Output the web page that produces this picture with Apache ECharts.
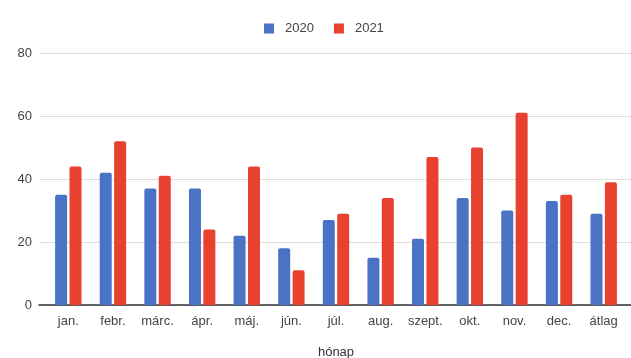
<!DOCTYPE html>
<html>
<head>
<meta charset="utf-8">
<script src="https://cdn.jsdelivr.net/npm/echarts@6/dist/echarts.min.js"></script>
<style>
  html, body { margin: 0; padding: 0; background: #ffffff; }
  #chart { width: 631px; height: 358px; }
</style>
</head>
<body>
<div id="chart"></div>
<script>
// Monthly figures per year, plus the yearly average
const categories = ['jan.', 'febr.', 'márc.', 'ápr.', 'máj.', 'jún.', 'júl.', 'aug.', 'szept.', 'okt.', 'nov.', 'dec.', 'átlag'];
const values2020 = [35, 42, 37, 37, 22, 18, 27, 15, 21, 34, 30, 33, 29];
const values2021 = [44, 52, 41, 24, 44, 11, 29, 34, 47, 50, 61, 35, 39];
const yTicks = [0, 20, 40, 60, 80];

const font = '"Liberation Sans", Arial, sans-serif';
const textColor = '#444444';

const chart = echarts.init(document.getElementById('chart'), null, { renderer: 'canvas' });

chart.setOption({
  animation: false,
  backgroundColor: '#ffffff',
  legend: {
    top: 17,
    left: 259,
    itemWidth: 10,
    itemHeight: 10,
    itemGap: 20,
    icon: 'rect',
    textStyle: { fontFamily: font, fontSize: 13, color: textColor, padding: [0, 0, 0, 6] },
    data: ['2020', '2021']
  },
  grid: [
    // background grid: gridlines, baseline and value labels
    { left: 39, right: 0, top: 53, bottom: 53, containLabel: false, outerBoundsMode: 'none' },
    // bars and month labels
    { left: 46, right: 5, top: 53, bottom: 53, containLabel: false, outerBoundsMode: 'none' }
  ],
  xAxis: [
    {
      gridIndex: 0,
      type: 'category',
      data: categories,
      axisLine: { show: true, lineStyle: { color: '#333333', width: 1.5 } },
      axisTick: { show: false },
      axisLabel: { show: false },
      splitLine: { show: false }
    },
    {
      gridIndex: 1,
      type: 'category',
      data: categories,
      axisLine: { show: false },
      axisTick: { show: false },
      axisLabel: { fontFamily: font, fontSize: 13, color: textColor, margin: 10, interval: 0 },
      name: 'hónap',
      nameLocation: 'middle',
      nameGap: 41,
      nameTextStyle: { fontFamily: font, fontSize: 13, color: '#333333' }
    }
  ],
  yAxis: [
    {
      gridIndex: 0,
      type: 'value',
      min: yTicks[0],
      max: yTicks[yTicks.length - 1],
      interval: yTicks[1] - yTicks[0],
      axisLine: { show: false },
      axisTick: { show: false },
      axisLabel: { fontFamily: font, fontSize: 13, color: textColor, margin: 7 },
      splitLine: { lineStyle: { color: '#e2dcdc', width: 1 } }
    },
    {
      gridIndex: 1,
      type: 'value',
      min: yTicks[0],
      max: yTicks[yTicks.length - 1],
      interval: yTicks[1] - yTicks[0],
      show: false,
      splitLine: { show: false }
    }
  ],
  series: [
    {
      name: '2020',
      type: 'bar',
      xAxisIndex: 1,
      yAxisIndex: 1,
      data: values2020,
      barWidth: 12,
      barGap: '20%',
      itemStyle: { color: '#4a73c6', borderRadius: [2, 2, 0, 0] }
    },
    {
      name: '2021',
      type: 'bar',
      xAxisIndex: 1,
      yAxisIndex: 1,
      data: values2021,
      barWidth: 12,
      barGap: '20%',
      itemStyle: { color: '#e8412f', borderRadius: [2, 2, 0, 0] }
    }
  ]
});
</script>
</body>
</html>
